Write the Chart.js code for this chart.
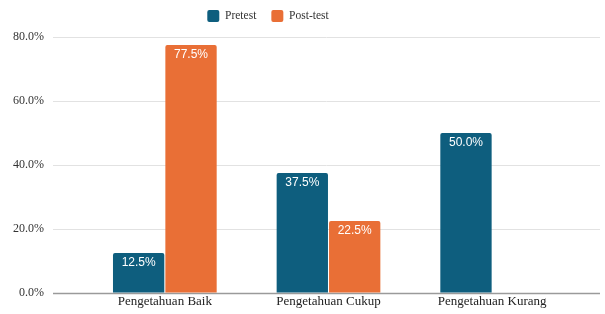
<!DOCTYPE html>
<html>
<head>
<meta charset="utf-8">
<script src="https://cdn.jsdelivr.net/npm/chart.js@4.4.0/dist/chart.umd.min.js"></script>
<style>
  html, body { margin: 0; padding: 0; background: #fff; overflow: hidden; }
  canvas { display: block; }
</style>
</head>
<body>
<canvas id="chart" width="605" height="314"></canvas>
<script>
const categories = ['Pengetahuan Baik', 'Pengetahuan Cukup', 'Pengetahuan Kurang'];
const pretestValues = [12.5, 37.5, 50.0];
const posttestValues = [77.5, 22.5, 0];
const seriesNames = ['Pretest', 'Post-test'];

const serif = "'Liberation Serif', 'DejaVu Serif', serif";

// grid lines that run a bit past the plot area on both sides
const gridPlugin = {
    id: 'wideGrid',
    beforeDatasetsDraw(chart) {
        const ctx = chart.ctx;
        const y = chart.scales.y;
        const area = chart.chartArea;
        ctx.save();
        for (const tick of y.ticks) {
            const py = Math.round(y.getPixelForValue(tick.value)) + 0.5;
            ctx.beginPath();
            ctx.moveTo(area.left - 30, py);
            ctx.lineTo(area.right + 26, py);
            if (tick.value === 0) {
                ctx.strokeStyle = '#9a9a9a';
                ctx.lineWidth = 1.5;
            } else {
                ctx.strokeStyle = '#e2e2e2';
                ctx.lineWidth = 1;
            }
            ctx.stroke();
        }
        ctx.restore();
    }
};

// legend in the original sits left of centre and close to the top
const legendShift = {
    id: 'legendShift',
    afterLayout(chart) {
        const lg = chart.legend;
        lg.right -= 38;
        lg.top -= 5;
        lg.bottom -= 5;
    }
};

// value labels inside the top of each bar
const labelPlugin = {
    id: 'barLabels',
    afterDatasetsDraw(chart) {
        const ctx = chart.ctx;
        ctx.save();
        ctx.font = "12px 'Liberation Sans', Arial, sans-serif";
        ctx.fillStyle = '#ffffff';
        ctx.textAlign = 'center';
        ctx.textBaseline = 'top';
        chart.data.datasets.forEach((ds, i) => {
            const meta = chart.getDatasetMeta(i);
            meta.data.forEach((bar, j) => {
                const v = ds.data[j];
                if (!v) return;
                ctx.fillText(v.toFixed(1) + '%', bar.x, bar.y + 4);
            });
        });
        ctx.restore();
    }
};

new Chart(document.getElementById('chart'), {
    type: 'bar',
    data: {
        labels: categories,
        datasets: [
            {
                label: seriesNames[0],
                data: pretestValues,
                backgroundColor: '#0e5e7e',
                borderRadius: 2,
                borderSkipped: 'bottom'
            },
            {
                label: seriesNames[1],
                data: posttestValues,
                backgroundColor: '#e96f36',
                borderRadius: 2,
                borderSkipped: 'bottom'
            }
        ]
    },
    options: {
        responsive: false,
        animation: false,
        layout: { padding: { left: 0, right: 31, top: 0, bottom: 0 } },
        datasets: {
            bar: { categoryPercentage: 0.64, barPercentage: 0.98 }
        },
        plugins: {
            legend: {
                position: 'top',
                labels: {
                    font: { family: serif, size: 11.5 },
                    color: '#333',
                    boxWidth: 12,
                    boxHeight: 12,
                    useBorderRadius: true,
                    borderRadius: 2,
                    padding: 15
                }
            },
            tooltip: { enabled: false }
        },
        scales: {
            x: {
                grid: { display: false, drawTicks: false },
                border: { display: false },
                afterFit(scale) { scale.height = 21; },
                ticks: {
                    font: { family: serif, size: 13 },
                    color: '#222',
                    padding: 1
                }
            },
            y: {
                min: 0,
                max: 80,
                grid: {
                    drawOnChartArea: false,
                    drawTicks: true,
                    tickLength: 30,
                    color: 'rgba(0,0,0,0)'
                },
                border: { display: false },
                afterFit(scale) { scale.width = 83; },
                ticks: {
                    stepSize: 20,
                    font: { family: serif, size: 12 },
                    color: '#333',
                    padding: 9,
                    callback: (v) => v.toFixed(1) + '%'
                }
            }
        }
    },
    plugins: [gridPlugin, labelPlugin, legendShift]
});
</script>
</body>
</html>
